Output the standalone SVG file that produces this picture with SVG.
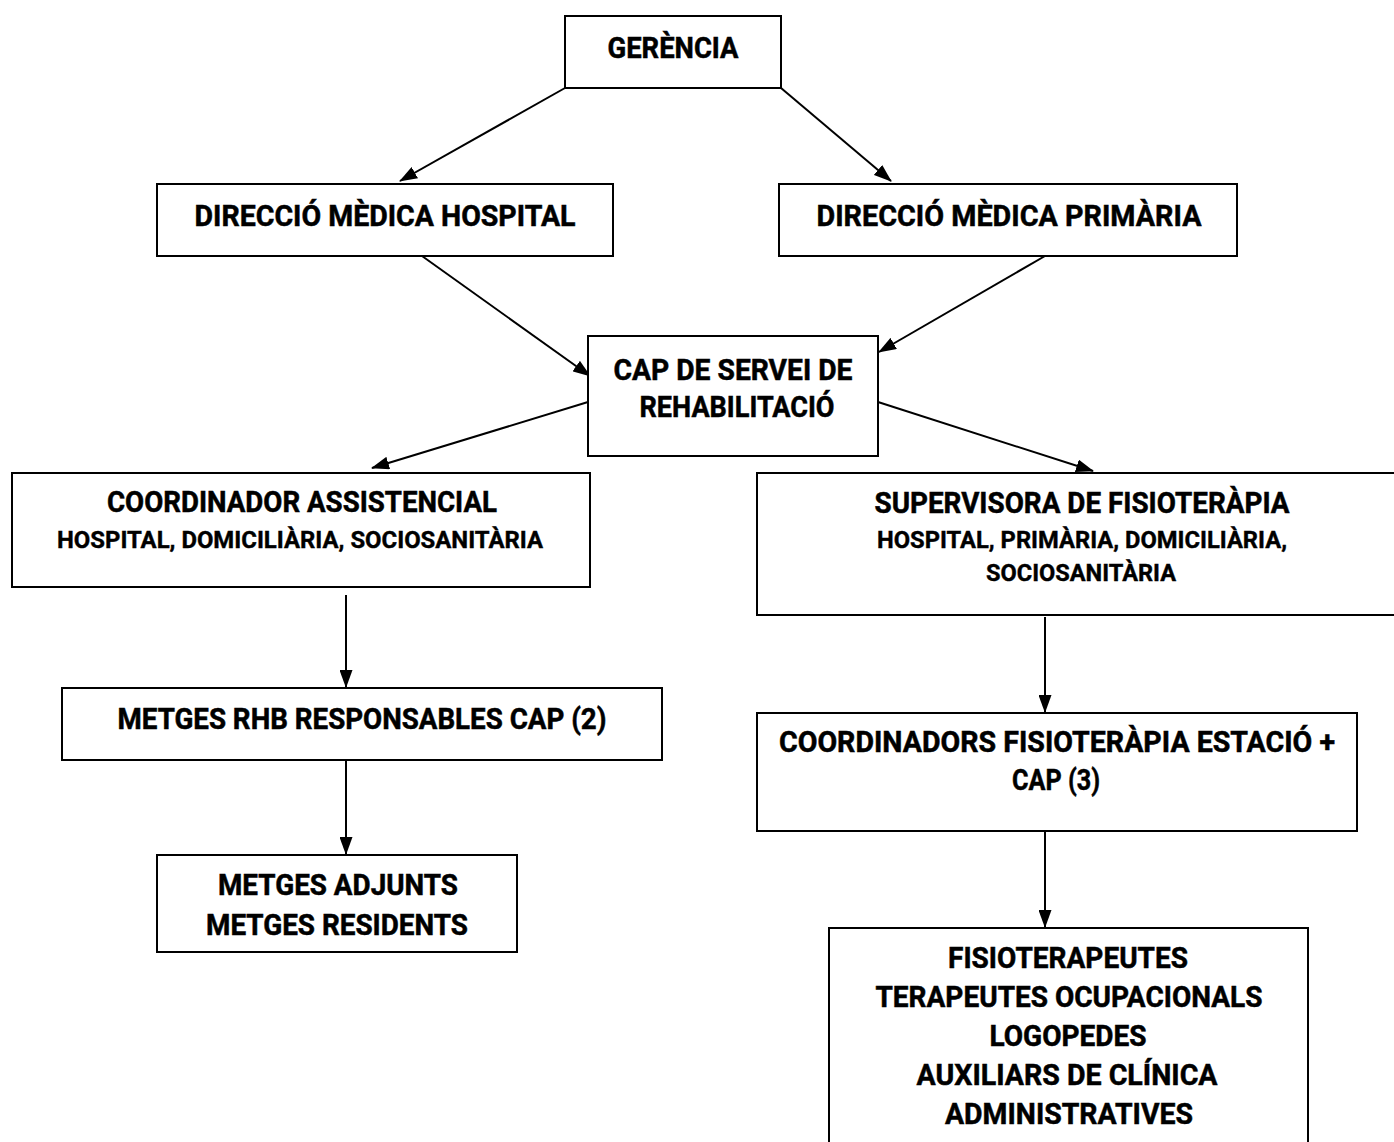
<svg xmlns="http://www.w3.org/2000/svg" width="1394" height="1142" viewBox="0 0 1394 1142">
<defs>
<marker id="ah" markerUnits="userSpaceOnUse" markerWidth="18" markerHeight="13" refX="17" refY="6.5" orient="auto">
<path d="M0,0 L18,6.5 L0,13 Z" fill="#000"/>
</marker>
<style>
.box{fill:#fff;stroke:#000;stroke-width:2}
.t{font-family:"Roboto","Liberation Sans",sans-serif;font-weight:bold;font-size:29px;fill:#000;stroke:#000;stroke-width:0.5;text-anchor:middle}
.s{font-size:24px;stroke-width:0.4}
.c{stroke:#000;stroke-width:2;fill:none;marker-end:url(#ah)}
</style>
</defs>
<rect width="1394" height="1142" fill="#fff"/>
<g id="connectors">
<line class="c" x1="565" y1="88" x2="400" y2="181"/>
<line class="c" x1="781" y1="88" x2="891" y2="181"/>
<line class="c" x1="422" y1="256" x2="590" y2="376"/>
<line class="c" x1="1045" y1="256" x2="879" y2="352"/>
<line class="c" x1="588" y1="402" x2="372" y2="468"/>
<line class="c" x1="878" y1="402" x2="1093" y2="471"/>
<line class="c" x1="346" y1="595" x2="346" y2="687"/>
<line class="c" x1="346" y1="760" x2="346" y2="854"/>
<line class="c" x1="1045" y1="617" x2="1045" y2="712"/>
<line class="c" x1="1045" y1="832" x2="1045" y2="927"/>
</g>
<g id="gerencia">
<rect class="box" x="565" y="16" width="216" height="72"/>
<text class="t" x="673" y="58" textLength="131" lengthAdjust="spacingAndGlyphs">GERÈNCIA</text>
</g>
<g id="dir-hospital">
<rect class="box" x="157" y="184" width="456" height="72"/>
<text class="t" x="385" y="226" textLength="381" lengthAdjust="spacingAndGlyphs">DIRECCIÓ MÈDICA HOSPITAL</text>
</g>
<g id="dir-primaria">
<rect class="box" x="779" y="184" width="458" height="72"/>
<text class="t" x="1009" y="226" textLength="385" lengthAdjust="spacingAndGlyphs">DIRECCIÓ MÈDICA PRIMÀRIA</text>
</g>
<g id="cap-servei">
<rect class="box" x="588" y="336" width="290" height="120"/>
<text class="t" x="733" y="380" textLength="239" lengthAdjust="spacingAndGlyphs">CAP DE SERVEI DE</text>
<text class="t" x="737" y="417" textLength="195" lengthAdjust="spacingAndGlyphs">REHABILITACIÓ</text>
</g>
<g id="coordinador">
<rect class="box" x="12" y="473" width="578" height="114"/>
<text class="t" x="302" y="512" textLength="390" lengthAdjust="spacingAndGlyphs">COORDINADOR ASSISTENCIAL</text>
<text class="t s" x="300" y="548" textLength="486" lengthAdjust="spacingAndGlyphs">HOSPITAL, DOMICILIÀRIA, SOCIOSANITÀRIA</text>
</g>
<g id="supervisora">
<rect class="box" x="757" y="473" width="645" height="142"/>
<text class="t" x="1082" y="513" textLength="415" lengthAdjust="spacingAndGlyphs">SUPERVISORA DE FISIOTERÀPIA</text>
<text class="t s" x="1082" y="548" textLength="410" lengthAdjust="spacingAndGlyphs">HOSPITAL, PRIMÀRIA, DOMICILIÀRIA,</text>
<text class="t s" x="1081" y="581" textLength="190" lengthAdjust="spacingAndGlyphs">SOCIOSANITÀRIA</text>
</g>
<g id="metges-rhb">
<rect class="box" x="62" y="688" width="600" height="72"/>
<text class="t" x="362" y="729" textLength="489" lengthAdjust="spacingAndGlyphs">METGES RHB RESPONSABLES CAP (2)</text>
</g>
<g id="coordinadors">
<rect class="box" x="757" y="713" width="600" height="118"/>
<text class="t" x="1057" y="752" textLength="556" lengthAdjust="spacingAndGlyphs">COORDINADORS FISIOTERÀPIA ESTACIÓ +</text>
<text class="t" x="1056" y="790" textLength="88" lengthAdjust="spacingAndGlyphs">CAP (3)</text>
</g>
<g id="metges-adjunts">
<rect class="box" x="157" y="855" width="360" height="97"/>
<text class="t" x="338" y="895" textLength="240" lengthAdjust="spacingAndGlyphs">METGES ADJUNTS</text>
<text class="t" x="337" y="935" textLength="262" lengthAdjust="spacingAndGlyphs">METGES RESIDENTS</text>
</g>
<g id="personal">
<rect class="box" x="829" y="928" width="479" height="230"/>
<text class="t" x="1068" y="968" textLength="240" lengthAdjust="spacingAndGlyphs">FISIOTERAPEUTES</text>
<text class="t" x="1069" y="1007" textLength="387" lengthAdjust="spacingAndGlyphs">TERAPEUTES OCUPACIONALS</text>
<text class="t" x="1068" y="1046" textLength="157" lengthAdjust="spacingAndGlyphs">LOGOPEDES</text>
<text class="t" x="1067" y="1085" textLength="301" lengthAdjust="spacingAndGlyphs">AUXILIARS DE CLÍNICA</text>
<text class="t" x="1069" y="1124" textLength="248" lengthAdjust="spacingAndGlyphs">ADMINISTRATIVES</text>
</g>
</svg>
